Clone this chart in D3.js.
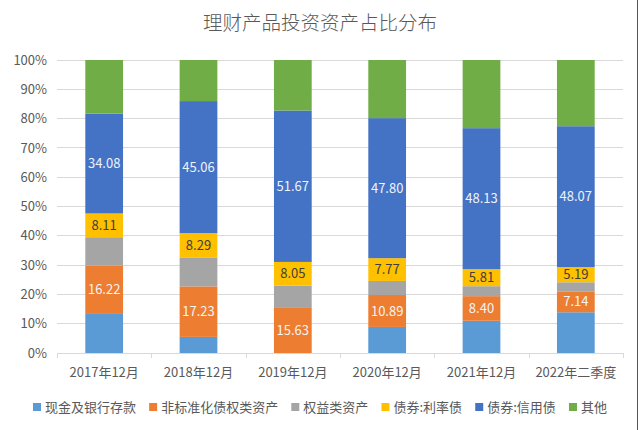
<!DOCTYPE html>
<html><head><meta charset="utf-8">
<script src="https://cdn.jsdelivr.net/npm/d3@7"></script>
<style>body{margin:0;background:#fff}svg{display:block;font-family:"Noto Sans CJK SC","Noto Sans",sans-serif}</style>
</head><body>
<svg id="c" width="640" height="430"></svg>
<script>
const categories = ["2017年12月","2018年12月","2019年12月","2020年12月","2021年12月","2022年二季度"];
const seriesNames = ["现金及银行存款","非标准化债权类资产","权益类资产","债券:利率债","债券:信用债","其他"];
const cash     = [13.6, 5.5, 0, 8.9, 11.0, 13.9];
const nonStd   = [16.22, 17.23, 15.63, 10.89, 8.40, 7.14];
const equity   = [9.7, 9.9, 7.4, 4.8, 3.4, 3.1];
const rateBond = [8.11, 8.29, 8.05, 7.77, 5.81, 5.19];
const credit   = [34.08, 45.06, 51.67, 47.80, 48.13, 48.07];
const other    = [18.29, 14.02, 17.25, 19.84, 23.26, 22.60];
const yTicks = [0,10,20,30,40,50,60,70,80,90,100];
const colors = ["#5B9BD5","#ED7D31","#A5A5A5","#FFC000","#4472C4","#70AD47"];
const labeled = [false,true,false,true,true,false];
const labelColors = ["#fff","#F4F4F4","#fff","#404040","#EEF2FA","#fff"];

const allSeries = [cash,nonStd,equity,rateBond,credit,other];
const rows = categories.map((c,i)=>{const r={cat:c}; seriesNames.forEach((s,k)=>r[s]=allSeries[k][i]); return r;});
const stacked = d3.stack().keys(seriesNames)(rows);

const svg = d3.select("#c");
const L=57,R=623,T=60,B=353;
const x = d3.scaleBand().domain(categories).range([L,R]).paddingInner(0.6).paddingOuter(0.3);
const y = d3.scaleLinear().domain([0,100]).range([B,T]);

svg.append("text").attr("x",320).attr("y",30).attr("text-anchor","middle")
  .attr("font-size",19.5).attr("font-weight",300).attr("fill","#595959").text("理财产品投资资产占比分布");

// gridlines
svg.append("g").selectAll("line").data(yTicks.filter(d=>d>0)).join("line")
  .attr("x1",L).attr("x2",R).attr("y1",d=>y(d)).attr("y2",d=>y(d))
  .attr("stroke","#D9D9D9").attr("stroke-width",1).attr("shape-rendering","crispEdges");

// y axis
const ya = svg.append("g").attr("transform",`translate(${L},0)`)
  .call(d3.axisLeft(y).tickValues(yTicks).tickFormat(d=>d+"%").tickSize(0).tickPadding(10));
ya.select(".domain").remove();
ya.selectAll("text").attr("font-size",13).attr("fill","#595959").attr("font-family","'Noto Sans CJK SC','Noto Sans',sans-serif");

// bars
const g = svg.append("g");
stacked.forEach((s,k)=>{
  g.append("g").selectAll("rect").data(s).join("rect")
    .attr("x",d=>x(d.data.cat)).attr("width",x.bandwidth())
    .attr("y",d=>y(d[1])).attr("height",d=>y(d[0])-y(d[1]))
    .attr("fill",colors[k]);
});
stacked.forEach((s,k)=>{
  if(!labeled[k]) return;
  g.append("g").selectAll("text").data(s).join("text")
    .attr("x",d=>x(d.data.cat)+x.bandwidth()/2)
    .attr("y",d=>(y(d[0])+y(d[1]))/2)
    .attr("dy","0.35em").attr("text-anchor","middle")
    .attr("font-size",13).attr("fill",labelColors[k])
    .text(d=>(d[1]-d[0]).toFixed(2));
});

// x axis
const xa = svg.append("g").attr("transform",`translate(0,${B})`);
xa.append("line").attr("x1",L).attr("x2",R).attr("y1",0.5).attr("y2",0.5).attr("stroke","#D9D9D9");
const bounds = d3.range(categories.length+1).map(i=>L+(R-L)/categories.length*i);
xa.selectAll("line.tk").data(bounds).join("line").attr("class","tk")
  .attr("x1",d=>Math.round(d)+0.5).attr("x2",d=>Math.round(d)+0.5).attr("y1",0).attr("y2",5).attr("stroke","#D9D9D9");
xa.selectAll("text").data(categories).join("text")
  .attr("x",d=>x(d)+x.bandwidth()/2).attr("y",24).attr("text-anchor","middle")
  .attr("font-size",13).attr("fill","#595959").text(d=>d);

// right frame line
svg.append("line").attr("x1",637.5).attr("x2",637.5).attr("y1",0).attr("y2",430).attr("stroke","#555");

// legend
const lg = svg.append("g").attr("transform","translate(33,407)");
const items = seriesNames.map((s,k)=>{
  const it = lg.append("g");
  it.append("rect").attr("x",0).attr("y",-4).attr("width",8).attr("height",8).attr("fill",colors[k]);
  const t = it.append("text").attr("x",12).attr("y",0).attr("dy","0.35em").attr("font-size",13).attr("fill","#595959").text(s);
  return {it, w: 12 + t.node().getComputedTextLength()};
});
const span = 574;
const gap = (span - d3.sum(items,d=>d.w)) / (items.length-1);
let cx = 0;
items.forEach(d=>{ d.it.attr("transform",`translate(${cx},0)`); cx += d.w + gap; });
</script>
</body></html>
